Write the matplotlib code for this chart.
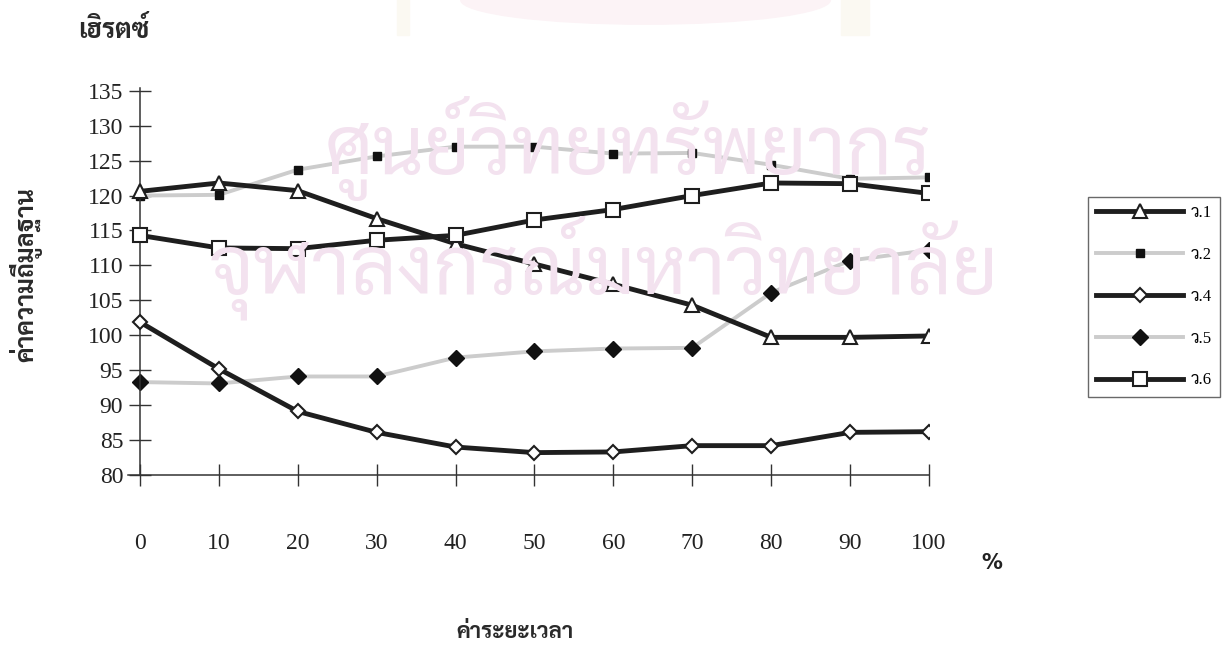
import matplotlib
matplotlib.use('Agg')
import matplotlib.pyplot as plt
from matplotlib.patches import Ellipse, Rectangle

thai = ['Sarabun', 'Noto Sans Thai', 'Athiti', 'Anuphan', 'DejaVu Sans']
serif = ['Liberation Serif', 'Sarabun', 'Noto Sans Thai', 'DejaVu Serif']

# data
percent = [0, 10, 20, 30, 40, 50, 60, 70, 80, 90, 100]
w1 = [120.6, 121.8, 120.7, 116.7, 113.1, 110.2, 107.3, 104.3, 99.7, 99.7, 99.9]
w2 = [120.0, 120.1, 123.7, 125.6, 127.0, 127.0, 126.0, 126.1, 124.4, 122.4, 122.6]
w4 = [101.9, 95.2, 89.1, 86.1, 84.0, 83.2, 83.3, 84.2, 84.2, 86.1, 86.2]
w5 = [93.3, 93.1, 94.1, 94.1, 96.8, 97.7, 98.1, 98.2, 106.1, 110.7, 112.2]
w6 = [114.3, 112.5, 112.4, 113.6, 114.3, 116.5, 118.0, 120.0, 121.8, 121.7, 120.3]
labels = ['ว.1', 'ว.2', 'ว.4', 'ว.5', 'ว.6']
yticks = [80, 85, 90, 95, 100, 105, 110, 115, 120, 125, 130, 135]

fig = plt.figure(figsize=(12.32, 6.45), dpi=100)

# faint scan watermark
fig.patches.append(Ellipse((0.524, 1.0), 0.30, 0.075, transform=fig.transFigure,
                           color='#fcf3f6', zorder=0))
for xr, wr in ((0.322, 0.01), (0.683, 0.022)):
    fig.patches.append(Rectangle((xr, 0.945), wr, 0.06, transform=fig.transFigure,
                                 color='#fbf9f2', zorder=0))
fig.text(0.51, 0.77, 'ศูนย์วิทยทรัพยากร', family=thai, fontsize=58,
         color='#f3e2ef', ha='center', va='center', zorder=0)
fig.text(0.49, 0.585, 'จุฬาลงกรณ์มหาวิทยาลัย', family=thai, fontsize=58,
         color='#f3e2ef', ha='center', va='center', zorder=0)

ax = fig.add_axes([0.1039, 0.2636, 0.6502, 0.6])
ax.patch.set_alpha(0)

dark = '#1e1e1e'
gray = '#cccccc'
ax.plot(percent, w2, color=gray, lw=2.8, marker='s', ms=6, mfc='#111111',
        mec='#111111', label=labels[1], zorder=2)
ax.plot(percent, w5, color=gray, lw=2.8, marker='D', ms=8, mfc='#111111',
        mec='#111111', label=labels[3], zorder=2)
ax.plot(percent, w1, color=dark, lw=3.5, marker='^', ms=10, mfc='white',
        mec=dark, mew=1.5, label=labels[0], zorder=3)
ax.plot(percent, w4, color=dark, lw=3.5, marker='D', ms=7.5, mfc='white',
        mec=dark, mew=1.5, label=labels[2], zorder=3)
ax.plot(percent, w6, color=dark, lw=3.5, marker='s', ms=10, mfc='white',
        mec=dark, mew=1.5, label=labels[4], zorder=4)

ax.set_xlim(-1.5, 100)
ax.set_ylim(80, 135.4)
for s in ['top', 'right']:
    ax.spines[s].set_visible(False)
ax.spines['left'].set_position(('data', 0))
for s in ['left', 'bottom']:
    ax.spines[s].set_color('#333333')
    ax.spines[s].set_linewidth(1.1)
ax.set_yticks(yticks)
ax.set_xticks(percent)
ax.tick_params(direction='inout', length=16, width=1, color='#333333')
ax.tick_params(axis='y', pad=4)
ax.tick_params(axis='x', pad=34)
for t in ax.get_xticklabels() + ax.get_yticklabels():
    t.set_family(serif)
    t.set_fontsize(17)
    t.set_color('#222222')

fig.text(0.092, 0.952, 'เฮิรตซ์', family=thai, fontsize=19, fontweight='bold',
         ha='center', va='center', color='#2a2a2a')
fig.text(0.021, 0.575, 'ค่าความถี่มูลฐาน', family=thai, fontsize=18,
         fontweight='bold', rotation=90, ha='center', va='center', color='#2a2a2a')
fig.text(0.418, 0.02, 'ค่าระยะเวลา', family=thai, fontsize=16, fontweight='bold',
         ha='center', va='center', color='#2a2a2a')
fig.text(0.805, 0.127, '%', fontsize=15, fontweight='bold', ha='center',
         va='center', color='#222222')

handles, labs = ax.get_legend_handles_labels()
order = [2, 0, 3, 1, 4]
leg = fig.legend([handles[i] for i in order], [labs[i] for i in order],
                 loc='upper left', bbox_to_anchor=(0.883, 0.695),
                 frameon=True, fancybox=False, handlelength=5.2,
                 labelspacing=1.55, borderpad=0.5, borderaxespad=0,
                 handletextpad=0.45,
                 prop={'family': serif, 'size': 12})
leg.get_frame().set_edgecolor('#444444')
leg.get_frame().set_linewidth(1.0)

fig.savefig('out.png')
